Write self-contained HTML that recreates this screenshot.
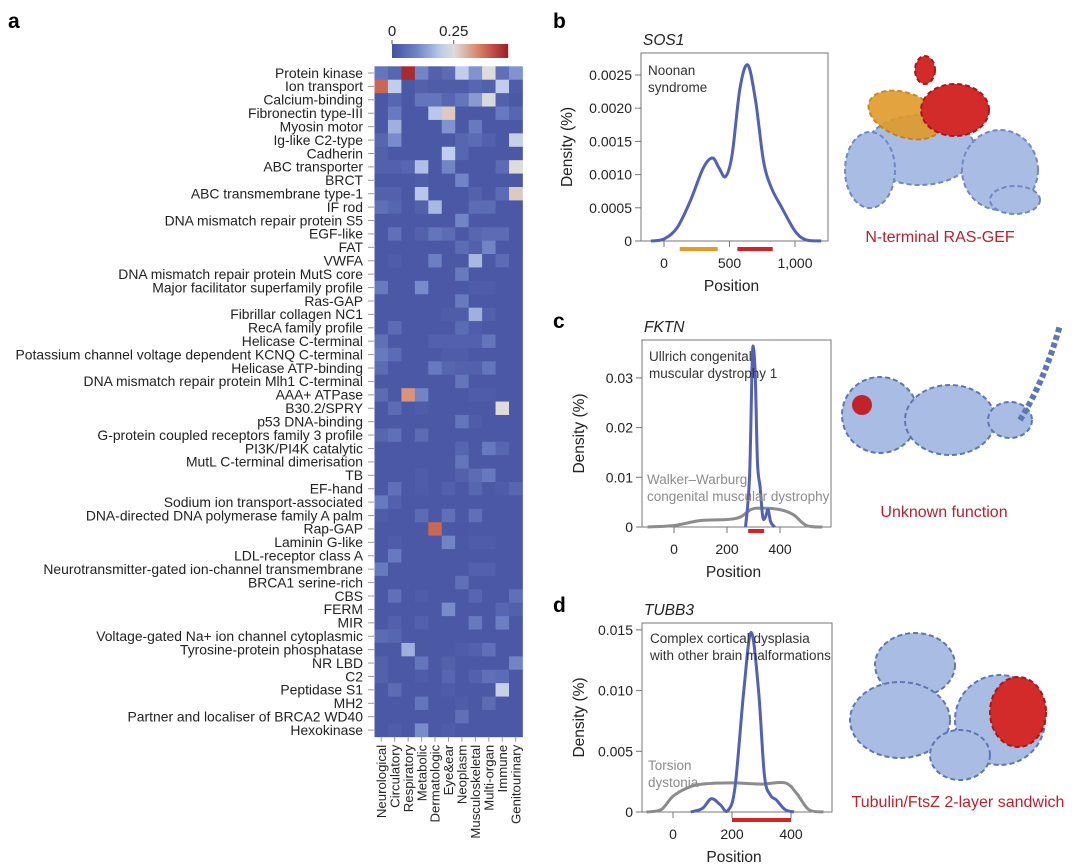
<!DOCTYPE html>
<html><head><meta charset="utf-8">
<style>
body{margin:0;background:#fff;}
svg{display:block;font-family:"Liberation Sans",sans-serif;}
</style></head>
<body>
<svg id="fig" width="1080" height="867" viewBox="0 0 1080 867" xmlns="http://www.w3.org/2000/svg">
<text x="8" y="28" font-size="21" font-weight="bold">a</text>
<text x="553" y="28" font-size="21" font-weight="bold">b</text>
<text x="553" y="328" font-size="21" font-weight="bold">c</text>
<text x="553" y="612" font-size="21" font-weight="bold">d</text>
<g id="heat"></g>
<g id="cbar"></g>
<g id="pb"></g>
<g id="pc"></g>
<g id="pd"></g>

<g>
 <g fill="#a9bce3" stroke="#7088c4" stroke-width="2" stroke-dasharray="5 3">
  <ellipse cx="920" cy="150" rx="55" ry="35"/>
  <ellipse cx="1000" cy="170" rx="38" ry="40"/>
  <ellipse cx="870" cy="170" rx="25" ry="38"/>
  <ellipse cx="1015" cy="200" rx="25" ry="14"/>
 </g>
 <g fill="#e09a2a" stroke="#c47e10" stroke-width="2" stroke-dasharray="5 3" opacity="0.9">
  <ellipse cx="905" cy="115" rx="38" ry="22" transform="rotate(20 905 115)"/>
 </g>
 <g fill="#d32a2a" stroke="#a81818" stroke-width="2" stroke-dasharray="5 3">
  <ellipse cx="955" cy="110" rx="34" ry="26"/>
  <ellipse cx="925" cy="70" rx="10" ry="14"/>
 </g>
</g>
<text x="940" y="242" font-size="16" fill="#b5232f" text-anchor="middle">N-terminal RAS-GEF</text>

<g>
 <g fill="#a9bce3" stroke="#5f76b4" stroke-width="2" stroke-dasharray="5 3">
  <ellipse cx="880" cy="415" rx="38" ry="38"/>
  <ellipse cx="950" cy="420" rx="45" ry="35"/>
  <ellipse cx="1010" cy="420" rx="22" ry="18"/>
  <path d="M1020 420 Q1045 380 1060 325" fill="none" stroke-width="6"/>
 </g>
 <ellipse cx="862" cy="405" rx="10" ry="10" fill="#c0242a"/>
</g>
<text x="944" y="517" font-size="16" fill="#b5232f" text-anchor="middle">Unknown function</text>

<g>
 <g fill="#a9bce3" stroke="#5f76b4" stroke-width="2" stroke-dasharray="5 3">
  <ellipse cx="915" cy="665" rx="40" ry="32"/>
  <ellipse cx="900" cy="720" rx="50" ry="38"/>
  <ellipse cx="1000" cy="720" rx="45" ry="45"/>
  <ellipse cx="960" cy="755" rx="30" ry="25"/>
 </g>
 <g fill="#d32a2a" stroke="#a81818" stroke-width="2" stroke-dasharray="5 3">
  <ellipse cx="1018" cy="712" rx="28" ry="35"/>
 </g>
</g>
<text x="958" y="807" font-size="16" fill="#b5232f" text-anchor="middle">Tubulin/FtsZ 2-layer sandwich</text>
</svg>
<script>
const rowLabels=["Protein kinase","Ion transport","Calcium-binding","Fibronectin type-III","Myosin motor","Ig-like C2-type","Cadherin","ABC transporter","BRCT","ABC transmembrane type-1","IF rod","DNA mismatch repair protein S5","EGF-like","FAT","VWFA","DNA mismatch repair protein MutS core","Major facilitator superfamily profile","Ras-GAP","Fibrillar collagen NC1","RecA family profile","Helicase C-terminal","Potassium channel voltage dependent KCNQ C-terminal","Helicase ATP-binding","DNA mismatch repair protein Mlh1 C-terminal","AAA+ ATPase","B30.2/SPRY","p53 DNA-binding","G-protein coupled receptors family 3 profile","PI3K/PI4K catalytic","MutL C-terminal dimerisation","TB","EF-hand","Sodium ion transport-associated","DNA-directed DNA polymerase family A palm","Rap-GAP","Laminin G-like","LDL-receptor class A","Neurotransmitter-gated ion-channel transmembrane","BRCA1 serine-rich","CBS","FERM","MIR","Voltage-gated Na+ ion channel cytoplasmic","Tyrosine-protein phosphatase","NR LBD","C2","Peptidase S1","MH2","Partner and localiser of BRCA2 WD40","Hexokinase"];
const colLabels=["Neurological","Circulatory","Respiratory","Metabolic","Dermatologic","Eye&ear","Neoplasm","Musculoskeletal","Multi-organ","Immune","Genitourinary"];
// sparse non-baseline values: [row, col, value]
const cellValues=[
[0,0,.07],[0,1,.04],[0,2,.45],[0,3,.1],[0,4,.03],[0,5,.05],[0,6,.2],[0,7,.12],[0,8,.25],[0,9,.06],[0,10,.12],
[1,0,.38],[1,1,.2],[1,3,.03],[1,4,.02],[1,5,.02],[1,6,.02],[1,7,.04],[1,8,.03],[1,9,.2],[1,10,.02],
[2,1,.04],[2,3,.07],[2,4,.07],[2,5,.04],[2,6,.07],[2,7,.13],[2,8,.24],[2,9,.03],
[3,1,.08],[3,4,.19],[3,5,.27],[3,9,.08],[3,10,.04],
[4,1,.16],[4,5,.12],[4,7,.08],
[5,0,.04],[5,1,.11],[5,6,.04],[5,7,.05],[5,8,.03],[5,10,.21],
[6,0,.03],[6,5,.2],[6,6,.04],
[7,0,.03],[7,1,.03],[7,2,.04],[7,3,.18],[7,5,.1],[7,9,.05],[7,10,.25],
[8,6,.1],[8,3,.02],
[9,0,.03],[9,1,.03],[9,3,.19],[9,7,.03],[9,9,.05],[9,10,.27],
[10,0,.06],[10,1,.04],[10,3,.03],[10,4,.17],[10,7,.05],[10,8,.05],
[11,6,.1],
[12,1,.06],[12,3,.03],[12,4,.07],[12,5,.05],[12,7,.04],[12,8,.05],[12,9,.05],
[13,6,.05],[13,7,.03],[13,8,.1],
[14,1,.02],[14,4,.09],[14,7,.17],[14,9,.05],
[15,6,.08],
[16,0,.08],[16,3,.11],[16,7,.02],[16,8,.02],
[17,6,.08],
[18,5,.02],[18,6,.02],[18,7,.16],[18,8,.03],
[19,1,.05],[19,6,.05],[19,7,.02],
[20,0,.06],[20,4,.03],[20,5,.03],[20,6,.03],[20,7,.03],[20,8,.07],
[21,0,.08],[21,1,.05],[21,5,.02],[21,6,.02],
[22,0,.05],[22,4,.08],[22,5,.04],[22,6,.03],[22,7,.03],[22,8,.07],
[23,6,.07],
[24,0,.05],[24,2,.33],[24,3,.1],[24,7,.02],[24,8,.02],
[25,1,.05],[25,3,.02],[25,9,.25],
[26,6,.07],[26,7,.02],
[27,0,.04],[27,1,.06],[27,3,.05],
[28,6,.04],[28,8,.08],[28,9,.04],
[29,6,.07],
[30,3,.02],[30,6,.03],[30,7,.05],[30,8,.08],
[31,1,.06],[31,3,.02],[31,5,.03],[31,7,.04],[31,9,.02],[31,10,.04],
[32,0,.08],[32,1,.03],
[33,0,.02],[33,3,.05],[33,5,.06],[33,7,.06],
[34,4,.38],[34,6,.01],
[35,1,.02],[35,5,.1],[35,7,.02],[35,8,.02],
[36,1,.08],
[37,0,.08],[37,7,.03],[37,8,.03],
[38,6,.06],
[39,1,.06],[39,3,.02],[39,7,.04],[39,10,.06],
[40,5,.11],[40,9,.04],[40,10,.03],
[41,1,.03],[41,3,.03],[41,7,.08],[41,9,.09],
[42,0,.05],[42,1,.04],
[43,2,.16],[43,6,.02],[43,7,.03],[43,8,.06],
[44,0,.03],[44,3,.07],[44,5,.03],[44,10,.1],
[45,0,.03],[45,3,.02],[45,5,.04],[45,7,.03],[45,8,.06],[45,9,.05],
[46,1,.05],[46,5,.02],[46,9,.21],
[47,3,.07],[47,6,.02],[47,8,.05],
[48,6,.06],
[49,1,.02],[49,3,.11],[49,5,.02]
];
const cbarTicks=[0,0.25];
const vmax=0.47;

// density data
const bBlueX=[-100,0,100,200,300,370,420,470,520,580,640,700,760,820,900,1000,1080,1200];
const bBlueY=[0,0.00003,0.0002,0.0006,0.0011,0.00125,0.0011,0.00097,0.0013,0.0023,0.00265,0.0021,0.0012,0.0008,0.0005,0.00015,0.00002,0];
const bYTicks=[0,0.0005,0.001,0.0015,0.002,0.0025];
const bYLabels=["0","0.0005","0.0010","0.0015","0.0020","0.0025"];
const bXTicks=[0,500,1000];
const bXLabels=["0","500","1,000"];
const cBlueX=[270,285,295,300,307,315,325,335,345,355,365,380];
const cBlueY=[0,0.01,0.033,0.036,0.03,0.013,0.008,0.002,0.002,0.0035,0.001,0];
const cGrayX=[-100,0,100,200,250,290,330,400,450,500,560];
const cGrayY=[0,0.0003,0.0013,0.0015,0.002,0.0035,0.0038,0.0035,0.0025,0.0003,0];
const cYTicks=[0,0.01,0.02,0.03];
const cYLabels=["0","0.01","0.02","0.03"];
const cXTicks=[0,200,400];
const dBlueX=[60,100,130,160,185,210,240,265,290,310,330,350,380,410];
const dBlueY=[0,0.0003,0.0011,0.0006,0.0001,0.002,0.01,0.0148,0.01,0.003,0.0014,0.001,0.0002,0];
const dGrayX=[-90,-40,0,50,100,200,300,380,420,460,510];
const dGrayY=[0,0.0002,0.0013,0.002,0.0023,0.0024,0.0023,0.0024,0.0015,0.0002,0];
const dYTicks=[0,0.005,0.01,0.015];
const dYLabels=["0","0.005","0.010","0.015"];
const dXTicks=[0,200,400];

const NS="http://www.w3.org/2000/svg";
function mk(tag,attrs,parent){const e=document.createElementNS(NS,tag);for(const k in attrs)e.setAttribute(k,attrs[k]);if(parent)parent.appendChild(e);return e;}
function lerp(a,b,t){return a+(b-a)*t;}
const stops=[[0,[70,82,162]],[0.1,[112,132,198]],[0.2,[192,206,236]],[0.25,[222,220,218]],[0.35,[214,130,100]],[0.47,[158,26,36]]];
function color(v){v=Math.max(0,Math.min(vmax,v));for(let i=1;i<stops.length;i++){if(v<=stops[i][0]){const t=(v-stops[i-1][0])/(stops[i][0]-stops[i-1][0]);const a=stops[i-1][1],b=stops[i][1];return `rgb(${Math.round(lerp(a[0],b[0],t))},${Math.round(lerp(a[1],b[1],t))},${Math.round(lerp(a[2],b[2],t))})`;}}return "rgb(158,26,36)";}

// heatmap
const heat=document.getElementById('heat');
const hx0=374.5,hy0=66.3,cw=13.45,rh=13.41;
const grid=rowLabels.map(()=>colLabels.map(()=>0.012));
cellValues.forEach(([r,c,v])=>{grid[r][c]=v;});
grid.forEach((row,r)=>{
  row.forEach((v,c)=>{
    const rect=mk('rect',{x:hx0+c*cw,y:hy0+r*rh,width:cw+0.4,height:rh+0.4,fill:color(v)},heat);
    
    
  });
  const y=hy0+(r+0.5)*rh;
  mk('line',{x1:368,x2:374,y1:y,y2:y,stroke:'#999','stroke-width':1},heat);
  const t=mk('text',{x:363,y:y+4.8,'font-size':13.9,'text-anchor':'end',fill:'#222'},heat);
  t.textContent=rowLabels[r];
  
  
});
const hbot=hy0+rowLabels.length*rh;
colLabels.forEach((c,i)=>{
  const x=hx0+(i+0.5)*cw;
  mk('line',{x1:x,x2:x,y1:hbot,y2:hbot+5,stroke:'#999','stroke-width':1},heat);
  const t=mk('text',{x:0,y:0,'font-size':13.2,'text-anchor':'end',fill:'#222',transform:`translate(${x+4.7},${hbot+8}) rotate(-90)`},heat);
  t.textContent=c;
  
  
});

// colorbar
const cb=document.getElementById('cbar');
const cbx0=392,cbw=116,cby=44,cbh=14;
for(let i=0;i<cbw;i++){mk('rect',{x:cbx0+i,y:cby,width:1.2,height:cbh,fill:color(i/cbw*vmax)},cb);}
cbarTicks.forEach(v=>{
  const x=cbx0+v/vmax*cbw;
  mk('line',{x1:x,x2:x,y1:cby-4,y2:cby,stroke:'#555'},cb);
  const t=mk('text',{x:x,y:cby-8,'font-size':15,'text-anchor':'middle',fill:'#222'},cb);
  t.textContent=String(v);
  
  
});

function smoothPath(pts){
  let d=`M${pts[0][0]},${pts[0][1]}`;
  for(let i=0;i<pts.length-1;i++){
    const p0=pts[i-1]||pts[i],p1=pts[i],p2=pts[i+1],p3=pts[i+2]||p2;
    const c1=[p1[0]+(p2[0]-p0[0])/6,p1[1]+(p2[1]-p0[1])/6];
    const c2=[p2[0]-(p3[0]-p1[0])/6,p2[1]-(p3[1]-p1[1])/6];
    d+=` C${c1[0]},${c1[1]} ${c2[0]},${c2[1]} ${p2[0]},${p2[1]}`;
  }
  return d;
}

function panel(id,cfg){
  const g=document.getElementById(id);
  const sx=v=>cfg.x0px+v*cfg.xs, sy=v=>cfg.y0px-v*cfg.ys;
  const box=mk('rect',{x:cfg.L,y:cfg.T,width:cfg.R-cfg.L,height:cfg.B-cfg.T,fill:'none',stroke:'#777','stroke-width':1},g);
  
  
  cfg.yt.forEach((v,i)=>{
    const y=sy(v);
    mk('line',{x1:cfg.L-6,x2:cfg.L,y1:y,y2:y,stroke:'#777'},g);
    const t=mk('text',{x:cfg.L-9,y:y+5,'font-size':14,'text-anchor':'end',fill:'#222'},g);
    t.textContent=cfg.yl[i];
    
    
  });
  cfg.xt.forEach((v,i)=>{
    const x=sx(v);
    mk('line',{x1:x,x2:x,y1:cfg.B,y2:cfg.B+6,stroke:'#777'},g);
    const t=mk('text',{x:x,y:cfg.B+27,'font-size':14,'text-anchor':'middle',fill:'#222'},g);
    t.textContent=cfg.xl[i];
    
    
  });
  const xt=mk('text',{x:(cfg.L+cfg.R)/2-3,y:cfg.B+50,'font-size':15.5,'text-anchor':'middle',fill:'#222'},g);
  xt.textContent='Position';
  
  
  const yt=mk('text',{x:0,y:0,'font-size':15.5,'text-anchor':'middle',fill:'#222',transform:`translate(${cfg.yTitleX},${(cfg.T+cfg.B)/2}) rotate(-90)`},g);
  yt.textContent='Density (%)';
  
  
  const gt=mk('text',{x:cfg.L+2,y:cfg.T-8,'font-size':15.5,'font-style':'italic',fill:'#222'},g);
  gt.textContent=cfg.gene;
  
  
  cfg.series.forEach(s=>{
    const pts=s.x.map((v,i)=>[sx(v),sy(s.y[i])]);
    const p=mk('path',{d:smoothPath(pts),fill:'none',stroke:s.color,'stroke-width':3,'stroke-linejoin':'round'},g);
    
    
  });
  cfg.bars.forEach(b=>{
    const l=mk('line',{x1:sx(b[0]),x2:sx(b[1]),y1:cfg.barY,y2:cfg.barY,stroke:b[2],'stroke-width':4},g);
    
    
  });
  cfg.notes.forEach(n=>{
    n.lines.forEach((ln,i)=>{
      const t=mk('text',{x:n.x,y:n.y+i*17,'font-size':13.5,fill:n.color},g);
      t.textContent=ln;
      
      
    });
  });
}
panel('pb',{L:641,R:828,T:53,B:241,x0px:664,xs:0.131,y0px:241,ys:66400,yt:bYTicks,yl:bYLabels,xt:bXTicks,xl:bXLabels,yTitleX:572,gene:'SOS1',
  series:[{x:bBlueX,y:bBlueY,color:'#5361b4',name:'noonan-density-line'}],
  bars:[[120,410,'#e39a27'],[560,830,'#d0232a']],barY:249,
  notes:[{x:648,y:75,color:'#333',lines:['Noonan','syndrome']}]});
panel('pc',{L:642,R:831,T:340,B:527,x0px:674,xs:0.265,y0px:527,ys:4970,yt:cYTicks,yl:cYLabels,xt:cXTicks,xl:['0','200','400'],yTitleX:584,gene:'FKTN',
  series:[{x:cGrayX,y:cGrayY,color:'#8c8c8c',name:'walker-warburg-density-line'},{x:cBlueX,y:cBlueY,color:'#5361b4',name:'ullrich-density-line'}],
  bars:[[280,340,'#d0232a']],barY:531,
  notes:[{x:649,y:361,color:'#333',lines:['Ullrich congenital','muscular dystrophy 1']},{x:647,y:484,color:'#8c8c8c',lines:['Walker\u2013Warburg','congenital muscular dystrophy']}]});
panel('pd',{L:642,R:832,T:623,B:812,x0px:673,xs:0.295,y0px:812,ys:12140,yt:dYTicks,yl:dYLabels,xt:dXTicks,xl:['0','200','400'],yTitleX:584,gene:'TUBB3',
  series:[{x:dGrayX,y:dGrayY,color:'#8c8c8c',name:'torsion-dystonia-density-line'},{x:dBlueX,y:dBlueY,color:'#5361b4',name:'cortical-dysplasia-density-line'}],
  bars:[[200,400,'#d0232a']],barY:820,
  notes:[{x:650,y:643,color:'#333',lines:['Complex cortical dysplasia','with other brain malformations']},{x:648,y:770,color:'#8c8c8c',lines:['Torsion','dystonia']}]});
</script>
</body></html>
